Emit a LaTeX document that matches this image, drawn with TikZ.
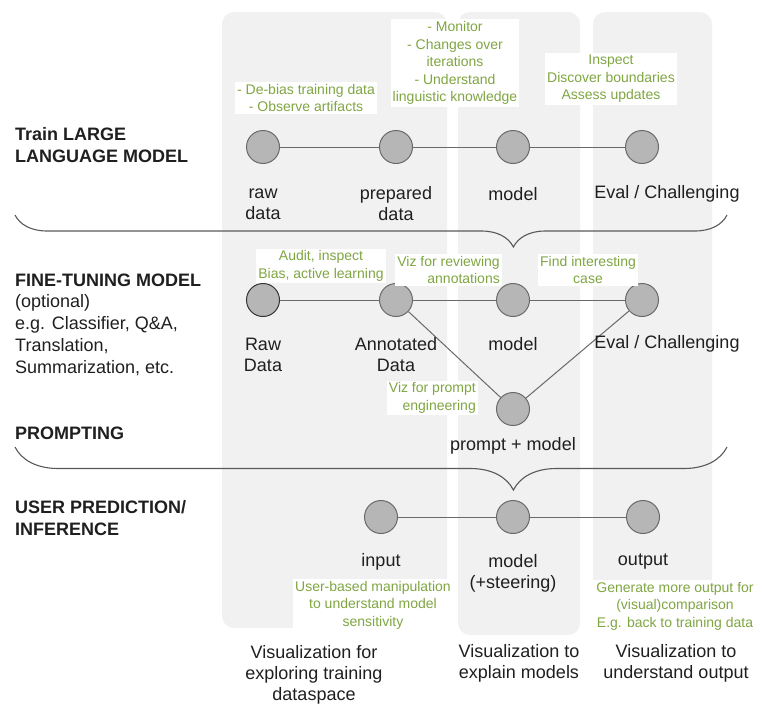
\documentclass[tikz,border=0pt]{standalone}
\usepackage{fontspec}
\setmainfont{Liberation Sans}
\usetikzlibrary{decorations.pathreplacing}

\definecolor{notegreen}{RGB}{128,166,66}
\definecolor{dotfill}{RGB}{182,182,182}
\definecolor{dotline}{RGB}{105,105,105}
\definecolor{panelgray}{RGB}{241,241,241}

\begin{document}
\begin{tikzpicture}[x=1pt, y=-1pt,
  dot/.style={circle, draw=dotline, fill=dotfill, line width=1pt, minimum size=33pt, inner sep=0pt},
  link/.style={draw=dotline, line width=1pt},
  lbl/.style={font=\fontsize{18}{21}\selectfont, align=center, text=black!88, inner sep=0pt},
  stage/.style={font=\fontsize{18}{22}\selectfont\bfseries, align=left, anchor=west, text=black!88, inner sep=0pt},
  stagenote/.style={font=\fontsize{18}{22}\selectfont, align=left, anchor=west, text=black!88, inner sep=0pt},
  note/.style={font=\fontsize{14}{17.5}\selectfont, align=center, text=notegreen, fill=white, inner sep=2pt},
  panel/.style={fill=panelgray, rounded corners=12pt},
  bracket/.style={decorate, draw=black!65, line width=1.1pt}]

\useasboundingbox (0,0) rectangle (762,704);

% columns
\fill[panel] (222,12) rectangle (447,628);
\fill[panel] (458,12) rectangle (580,635);
\fill[panel] (593,12) rectangle (712,590);

% stages
\node[stage] (train) at (15,145) {Train LARGE\\LANGUAGE MODEL};
\node[stage] (fine) at (15,280) {FINE-TUNING MODEL};
\node[stagenote] (finenote) at (15,335) {(optional)\\e.g. Classifier, Q\&A,\\Translation,\\Summarization, etc.};
\node[stage] (prompting) at (15,433) {PROMPTING};
\node[stage] (user) at (15,518) {USER PREDICTION/\\INFERENCE};

% large language model
\node[dot] (raw1) at (263,147) {};
\node[dot] (prep1) at (396,147) {};
\node[dot] (model1) at (513,147) {};
\node[dot] (eval1) at (642,147) {};
\draw[link] (raw1) -- (prep1) -- (model1) -- (eval1);
\node[lbl] (raw1lbl) at (263,204) {raw\\data};
\node[lbl] (prep1lbl) at (396,204) {prepared\\data};
\node[lbl] (model1lbl) at (513,194) {model};
\node[lbl] (eval1lbl) at (667,194) {Eval / Challenging};
\node[note] (debias) at (306,98) {- De-bias training data\\- Observe artifacts};
\node[note] (monitor) at (455,63) {- Monitor\\- Changes over\\iterations\\- Understand\\linguistic knowledge};
\node[note] (inspect) at (611,79) {Inspect\\Discover boundaries\\Assess updates};

% first brace
\coordinate (brace1l) at (15,215);
\coordinate (brace1r) at (727,215);
\draw[bracket, decoration={brace, mirror, amplitude=32pt, aspect=0.7}] (brace1l) -- (brace1r);

% fine-tuning and prompting
\node[dot, draw=black!80] (raw2) at (263,300) {};
\node[dot] (ann2) at (396,300) {};
\node[dot] (model2) at (513,300) {};
\node[dot] (eval2) at (642,300) {};
\node[dot] (prompt) at (513,409) {};
\draw[link] (raw2) -- (ann2) -- (model2) -- (eval2);
\draw[link] (ann2) -- (prompt) -- (eval2);
\node[lbl] (raw2lbl) at (263,355) {Raw\\Data};
\node[lbl] (ann2lbl) at (396,355) {Annotated\\Data};
\node[lbl] (model2lbl) at (513,344) {model};
\node[lbl] (eval2lbl) at (667,344) {Eval / Challenging};
\node[lbl] (promptlbl) at (513,446) {prompt + model};
\node[note] (audit) at (321,266) {Audit, inspect\\Bias, active learning};
\node[note, align=right, anchor=east] (review) at (502,270) {Viz for reviewing\\annotations};
\node[note] (find) at (588,270) {Find interesting\\case};
\node[note, align=right, anchor=east] (engineer) at (478,398) {Viz for prompt\\engineering};

% second brace
\coordinate (brace2l) at (15,447);
\coordinate (brace2r) at (727,447);
\draw[bracket, decoration={brace, mirror, amplitude=43pt, aspect=0.7}] (brace2l) -- (brace2r);

% inference
\node[dot] (input) at (381,517) {};
\node[dot] (model3) at (513,517) {};
\node[dot] (output) at (643,517) {};
\draw[link] (input) -- (model3) -- (output);
\node[lbl] (inputlbl) at (381,562) {input};
\node[lbl] (model3lbl) at (513,573) {model\\(+steering)};
\node[lbl] (outputlbl) at (643,562) {output};
\node[note] (manip) at (373,605) {User-based manipulation\\to understand model\\sensitivity};
\node[note] (generate) at (675,606) {Generate more output for\\(visual)comparison\\E.g. back to training data};

% column captions
\node[lbl] (explore) at (314,675) {Visualization for\\exploring training\\dataspace};
\node[lbl] (explain) at (519,663) {Visualization to\\explain models};
\node[lbl] (understand) at (676,663) {Visualization to\\understand output};

\end{tikzpicture}
\end{document}
